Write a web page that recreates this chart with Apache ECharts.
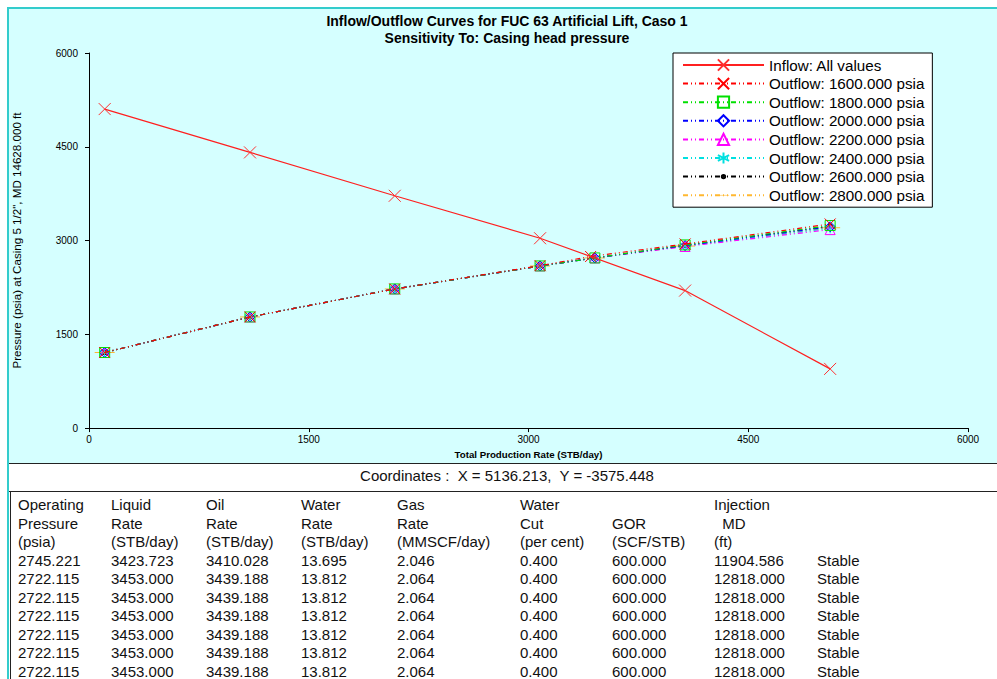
<!DOCTYPE html>
<html>
<head>
<meta charset="utf-8">
<title>Inflow/Outflow Curves for FUC 63 Artificial Lift, Caso 1</title>
<script src="https://cdn.jsdelivr.net/npm/echarts@6/dist/echarts.min.js"></script>
<style>
  html, body { margin: 0; padding: 0; background: #fff; width: 997px; height: 679px; overflow: hidden;
               font-family: Arial, "Liberation Sans", sans-serif; }
  #panel { position: absolute; left: 7px; top: 7px; width: 990px; height: 456px; background: #d5ffff;
           border-top: 2px solid #33cccc; border-left: 2px solid #33cccc; box-sizing: border-box; }
  #edge { position: absolute; left: 7px; top: 463px; width: 2px; height: 216px; background: #33cccc; }
  #chart { position: absolute; left: 0; top: 0; width: 997px; height: 464px; }
  .hl { position: absolute; left: 9px; right: 0; height: 1px; background: #222; }
  .vl { position: absolute; left: 10px; width: 1px; background: #222; }
  #coords { position: absolute; left: 0; width: 1014px; top: 467px; text-align: center;
            font-size: 15px; line-height: 18px; color: #111; white-space: pre; }
  .cell { position: absolute; font-size: 15px; line-height: 18px; color: #111; white-space: pre; }
</style>
</head>
<body>
<div id="panel"></div>
<div id="edge"></div>
<div id="chart"></div>
<div class="hl" style="top:463px"></div>
<div class="hl" style="top:491px"></div>
<div class="vl" style="top:491px;height:188px"></div>
<div id="coords"></div>
<div id="table"></div>
<script>
// ---- chart data ----
const axisTicks = [0, 1500, 3000, 4500, 6000];

const inflowRate     = [107, 1099, 2087, 3079, 4069, 5059];
const inflowPressure = [5103, 4410, 3716, 3037, 2200, 947];

// outflow curves share rates; the operating point differs for 1600 psia
const outflowRate1600 = [107, 1099, 2087, 3079, 3424, 4069, 5059];
const outflowRate     = [107, 1099, 2087, 3079, 3453, 4069, 5059];

const outflow1600 = [1209, 1778, 2226, 2598, 2745, 2945, 3265];
const outflow1800 = [1209, 1778, 2226, 2594, 2722, 2930, 3240];
const outflow2000 = [1209, 1778, 2226, 2594, 2722, 2920, 3220];
const outflow2200 = [1209, 1778, 2226, 2594, 2722, 2905, 3175];
const outflow2400 = [1209, 1778, 2226, 2594, 2722, 2915, 3195];
const outflow2600 = [1209, 1778, 2226, 2594, 2722, 2925, 3230];
const outflow2800 = [1209, 1778, 2226, 2594, 2722, 2912, 3205];

const inflowName = 'Inflow: All values';
const outflowNames = ['Outflow: 1600.000 psia', 'Outflow: 1800.000 psia', 'Outflow: 2000.000 psia',
                      'Outflow: 2200.000 psia', 'Outflow: 2400.000 psia', 'Outflow: 2600.000 psia',
                      'Outflow: 2800.000 psia'];

// ---- results table ----
const coordinatesText = 'Coordinates :  X = 5136.213,  Y = -3575.448';
const tableHeader = [
  ['Operating', 'Pressure', '(psia)'],
  ['Liquid', 'Rate', '(STB/day)'],
  ['Oil', 'Rate', '(STB/day)'],
  ['Water', 'Rate', '(STB/day)'],
  ['Gas', 'Rate', '(MMSCF/day)'],
  ['Water', 'Cut', '(per cent)'],
  ['', 'GOR', '(SCF/STB)'],
  ['Injection', '  MD', '(ft)'],
  ['', '', '']
];
const tableRows = [
  ['2745.221', '3423.723', '3410.028', '13.695', '2.046', '0.400', '600.000', '11904.586', 'Stable'],
  ['2722.115', '3453.000', '3439.188', '13.812', '2.064', '0.400', '600.000', '12818.000', 'Stable'],
  ['2722.115', '3453.000', '3439.188', '13.812', '2.064', '0.400', '600.000', '12818.000', 'Stable'],
  ['2722.115', '3453.000', '3439.188', '13.812', '2.064', '0.400', '600.000', '12818.000', 'Stable'],
  ['2722.115', '3453.000', '3439.188', '13.812', '2.064', '0.400', '600.000', '12818.000', 'Stable'],
  ['2722.115', '3453.000', '3439.188', '13.812', '2.064', '0.400', '600.000', '12818.000', 'Stable'],
  ['2722.115', '3453.000', '3439.188', '13.812', '2.064', '0.400', '600.000', '12818.000', 'Stable']
];

// ---- styling ----
const FONT = 'Arial, "Liberation Sans", sans-serif';
const colLeft = [18, 111, 206, 301, 397, 520, 612, 714, 817];
const firstRowTop = 496;
const rowPitch = 18.5;

const outflowColors = ['#ff0000', '#00e000', '#0000ff', '#ff00ff', '#00e0e0', '#000000', '#ffb830'];
const dashDotDot = [5, 3, 1, 3, 1, 3];
const crossPath = 'path://M0,0L10,10M10,0L0,10';
const starPath = 'path://M5,0L5,10M0.7,2.5L9.3,7.5M0.7,7.5L9.3,2.5';
// small ring inside a larger box so the marker stays tiny
const ringPath = 'path://M0,0M20,20M13,10A3,3,0,1,1,7,10A3,3,0,1,1,13,10Z';
const barPath = 'path://M0,0M0,9.5L20,9.5L20,10.5L0,10.5ZM20,20';
const outflowSymbols = [crossPath, 'rect', 'diamond', 'triangle', starPath, ringPath, barPath];
const outflowSymbolSizes = [11, 10, 10, 10, 10, 15, 20];

function zip(xs, ys) { return xs.map((x, i) => [x, ys[i]]); }

const outflowData = [
  zip(outflowRate1600, outflow1600),
  zip(outflowRate, outflow1800),
  zip(outflowRate, outflow2000),
  zip(outflowRate, outflow2200),
  zip(outflowRate, outflow2400),
  zip(outflowRate, outflow2600),
  zip(outflowRate, outflow2800)
];

const series = [{
  name: inflowName,
  type: 'line',
  data: zip(inflowRate, inflowPressure),
  symbol: crossPath,
  symbolSize: 12,
  lineStyle: { color: '#ff2020', width: 1.2, type: 'solid' },
  itemStyle: { color: 'rgba(0,0,0,0)', borderColor: '#ff3030', borderWidth: 1 },
  z: 10
}];
outflowNames.forEach((name, i) => {
  const filled = i === 6;
  series.push({
    name: name,
    type: 'line',
    data: outflowData[i],
    symbol: outflowSymbols[i],
    symbolSize: outflowSymbolSizes[i],
    lineStyle: { color: outflowColors[i], width: 1.2, type: dashDotDot },
    itemStyle: filled
      ? { color: outflowColors[i], borderWidth: 0 }
      : { color: 'rgba(0,0,0,0)', borderColor: outflowColors[i], borderWidth: 1 },
    z: 9 - i
  });
});
series.forEach(s => { s.emphasis = { disabled: true }; s.silent = true; });

const plainNumber = v => String(v);

const chart = echarts.init(document.getElementById('chart'), null, { renderer: 'svg' });
chart.setOption({
  animation: false,
  backgroundColor: 'transparent',
  textStyle: { fontFamily: FONT },
  grid: { left: 89, right: 29, top: 53, bottom: 31, containLabel: false },
  graphic: [{
    type: 'text',
    x: 507, y: 12,
    style: {
      text: 'Inflow/Outflow Curves for FUC 63 Artificial Lift, Caso 1\nSensitivity To: Casing head pressure',
      font: 'bold 14px ' + FONT,
      textAlign: 'center',
      lineHeight: 17.5,
      fill: '#000'
    }
  }],
  xAxis: {
    type: 'value',
    min: axisTicks[0], max: axisTicks[axisTicks.length - 1], interval: axisTicks[1] - axisTicks[0],
    name: 'Total Production Rate (STB/day)',
    nameLocation: 'middle', nameGap: 18,
    nameTextStyle: { fontSize: 9.7, fontWeight: 'bold', color: '#000', fontFamily: FONT },
    axisLine: { onZero: false, lineStyle: { color: '#000', width: 1 } },
    axisTick: { show: true, inside: false, length: 4, lineStyle: { color: '#000' } },
    axisLabel: { fontSize: 10, color: '#000', margin: 6, fontFamily: FONT, formatter: plainNumber },
    splitLine: { show: false }
  },
  yAxis: {
    type: 'value',
    min: axisTicks[0], max: axisTicks[axisTicks.length - 1], interval: axisTicks[1] - axisTicks[0],
    name: 'Pressure (psia) at Casing 5 1/2", MD 14628.000 ft',
    nameLocation: 'middle', nameGap: 67, nameRotate: 90,
    nameTextStyle: { fontSize: 11.6, color: '#000', fontFamily: FONT },
    axisLine: { show: true, onZero: false, lineStyle: { color: '#000', width: 1 } },
    axisTick: { show: true, inside: false, length: 4, lineStyle: { color: '#000' } },
    axisLabel: { fontSize: 10, color: '#000', margin: 11, fontFamily: FONT, formatter: plainNumber },
    splitLine: { show: false }
  },
  legend: {
    orient: 'vertical',
    left: 673, top: 53,
    backgroundColor: '#fff',
    borderColor: '#000', borderWidth: 1, borderRadius: 0,
    padding: [4, 8, 4, 9],
    itemWidth: 81, itemHeight: 14, itemGap: 2.6,
    selectedMode: false,
    textStyle: { fontSize: 15.2, color: '#000', lineHeight: 16, fontFamily: FONT },
    data: [inflowName].concat(outflowNames)
  },
  series: series
});

// ---- results panel below the plot ----
document.getElementById('coords').textContent = coordinatesText;
const table = document.getElementById('table');
function addCell(text, col, row) {
  const d = document.createElement('div');
  d.className = 'cell';
  d.style.left = colLeft[col] + 'px';
  d.style.top = (firstRowTop + row * rowPitch) + 'px';
  d.textContent = text;
  table.appendChild(d);
}
tableHeader.forEach((lines, c) => lines.forEach((t, r) => { if (t) addCell(t, c, r); }));
tableRows.forEach((row, r) => row.forEach((t, c) => addCell(t, c, r + 3)));
</script>
</body>
</html>
